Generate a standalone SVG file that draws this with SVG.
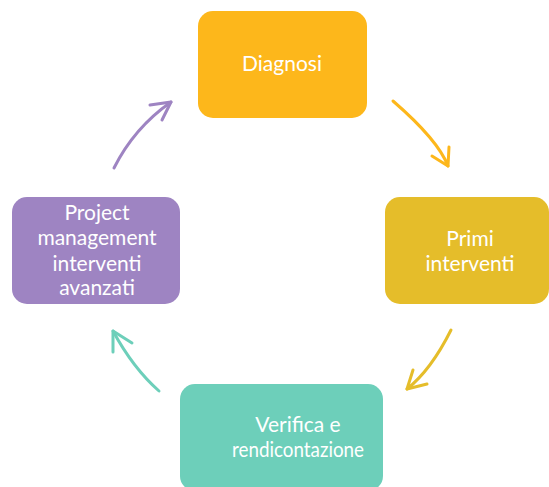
<svg xmlns="http://www.w3.org/2000/svg" width="549" height="487" viewBox="0 0 549 487">
<style>
.lbl{font-family:Lato,"Open Sans","Liberation Sans",sans-serif;font-size:21px;fill:#fff;text-anchor:middle}
.arr{fill:none;stroke-width:3;stroke-linecap:round;stroke-linejoin:round}
</style>
<rect width="549" height="487" fill="#fff"/>
<g id="connectors">
<g stroke="#FDB71B" class="arr"><path class="arr" d="M393,101 Q438,140 448,166"/><path class="arr" d="M432,156 L448,166 L449,147"/></g>
<g stroke="#E5BD2A" class="arr"><path class="arr" d="M451,330 Q431,370 407,389"/><path class="arr" d="M413,370 L407,389 L427,384"/></g>
<g stroke="#6DCFBA" class="arr"><path class="arr" d="M159,391 Q133,368 113,331"/><path class="arr" d="M113,352 L113,331 L132,343"/></g>
<g stroke="#9E84C2" class="arr"><path class="arr" d="M114,168 Q134,128 171,102"/><path class="arr" d="M150,105 L171,102 L162,120"/></g>
</g>
<g id="diagnosi">
<rect x="198" y="11" width="169" height="107" rx="15" fill="#FDB71B"/>
<text class="lbl" x="282" y="71">Diagnosi</text>
</g>
<g id="primi">
<rect x="385" y="197" width="164" height="107" rx="15" fill="#E5BD2A"/>
<text class="lbl" x="470" y="246">Primi</text>
<text class="lbl" x="470" y="271">interventi</text>
</g>
<g id="verifica">
<rect x="180" y="384" width="203" height="107" rx="15" fill="#6DCFBA"/>
<text class="lbl" x="298" y="432">Verifica e</text>
<text class="lbl" x="298" y="457" textLength="132" lengthAdjust="spacingAndGlyphs">rendicontazione</text>
</g>
<g id="project">
<rect x="12" y="197" width="168" height="107" rx="15" fill="#9E84C2"/>
<text class="lbl" x="97" y="220">Project</text>
<text class="lbl" x="97" y="245">management</text>
<text class="lbl" x="97" y="271">interventi</text>
<text class="lbl" x="97" y="295">avanzati</text>
</g>
</svg>
